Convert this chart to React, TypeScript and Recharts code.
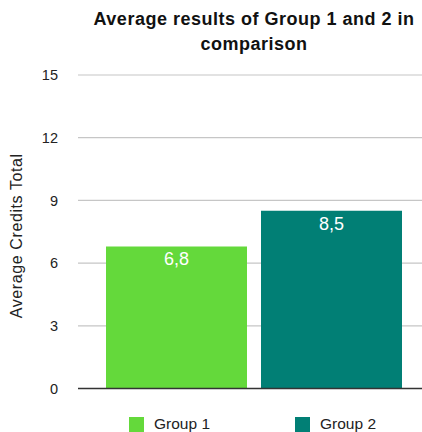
import React from 'react';
import { BarChart, Bar, XAxis, YAxis, CartesianGrid, Legend, LabelList } from 'recharts';

const categories = [''];
const group1 = [6.8];
const group2 = [8.5];
const yTicks = [0, 3, 6, 9, 12, 15];

const seriesNames = ['Group 1', 'Group 2'];
const colors = ['#64d93b', '#017f75'];

const data = categories.map((c, i) => ({ name: c, g1: group1[i], g2: group2[i] }));

const FONT = '"Liberation Sans", Arial, Helvetica, sans-serif';

const fmt = (v: any) => String(v).replace('.', ',');

const renderLegend = () => (
  <div style={{ display: 'flex', alignItems: 'center', height: 20, paddingLeft: 129, fontFamily: FONT, fontSize: 15.5, color: '#222' }}>
    {seriesNames.map((name, i) => (
      <div key={name} style={{ display: 'flex', alignItems: 'center', marginRight: i === 0 ? 85 : 0 }}>
        <div style={{ width: 15, height: 15, background: colors[i], marginRight: 10 }} />
        <span>{name}</span>
      </div>
    ))}
  </div>
);

const App: React.FC = () => {
  return (
    <div style={{ position: 'absolute', left: 0, top: 0, width: 422, height: 432, overflow: 'hidden', background: '#fff', fontFamily: FONT }}>
      <div
        style={{
          position: 'absolute',
          top: 7,
          left: 44,
          width: 420,
          textAlign: 'center',
          fontSize: 18,
          letterSpacing: 0.5,
          fontWeight: 'bold',
          lineHeight: '25px',
          color: '#111',
          zIndex: 2,
        }}
      >
        Average results of Group 1 and 2 in
        <br />
        comparison
      </div>
      <BarChart
        width={422}
        height={432}
        data={data}
        margin={{ top: 75, right: 0, left: 0, bottom: 18.5 }}
        barCategoryGap={28}
        barGap={14}
      >
        <CartesianGrid vertical={false} stroke="#c6c6c6" strokeWidth={1.2} />
        <XAxis
          dataKey="name"
          tick={false}
          tickLine={false}
          axisLine={{ stroke: '#333', strokeWidth: 1.5 }}
          height={5}
          padding={{ left: 0, right: -8 }}
        />
        <YAxis
          domain={[0, 15]}
          ticks={yTicks}
          width={78}
          axisLine={false}
          tickLine={false}
          tickSize={6}
          tickMargin={14}
          tick={{ fill: '#222', fontSize: 14.5, fontFamily: FONT }}
          label={{
            value: 'Average Credits Total',
            angle: -90,
            position: 'insideLeft',
            offset: 16,
            dy: 4,
            style: { textAnchor: 'middle', fill: '#222', fontSize: 16, letterSpacing: 0.6, fontFamily: FONT },
          }}
        />
        <Legend content={renderLegend} verticalAlign="bottom" wrapperStyle={{ top: 414, left: 0, width: 422, height: 20 }} />
        <Bar dataKey="g1" name={seriesNames[0]} fill={colors[0]} isAnimationActive={false}>
          <LabelList dataKey="g1" position="insideTop" offset={6} formatter={fmt} fill="#fff" fontSize={18} fontFamily={FONT} />
        </Bar>
        <Bar dataKey="g2" name={seriesNames[1]} fill={colors[1]} isAnimationActive={false}>
          <LabelList dataKey="g2" position="insideTop" offset={6} formatter={fmt} fill="#fff" fontSize={18} fontFamily={FONT} />
        </Bar>
      </BarChart>
    </div>
  );
};

export default App;
